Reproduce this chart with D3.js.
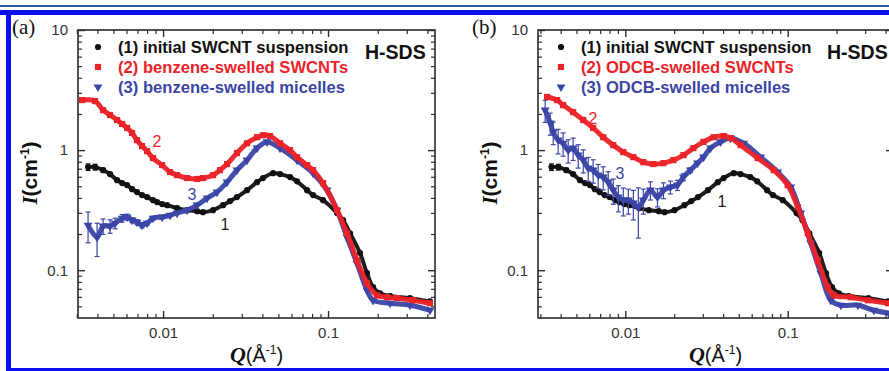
<!DOCTYPE html>
<html>
<head>
<meta charset="utf-8">
<script src="https://cdn.jsdelivr.net/npm/d3@7"></script>
<style>
  body { margin: 0; background: #fff; }
  svg { display: block; }
</style>
</head>
<body>
<div id="chart"></div>
<script>
// ---- data: Q (1/Å), I (1/cm) ----
// (1) initial SWCNT suspension, same sample in both panels
const qInitial = [0.00351, 0.00387, 0.00433, 0.00477, 0.00526, 0.00565, 0.00605, 0.00649, 0.00695, 0.00746,
  0.00800, 0.00869, 0.00920, 0.00986, 0.01057, 0.01216, 0.01396, 0.01607, 0.01746, 0.02009, 0.02310, 0.02547,
  0.02805, 0.03228, 0.03712, 0.04036, 0.04645, 0.05117, 0.05884, 0.06486, 0.07459, 0.08111, 0.09325, 0.1134,
  0.1233, 0.1359, 0.1563, 0.1722, 0.1875, 0.2066, 0.2377, 0.314, 0.415];
const iInitial = [0.722, 0.722, 0.681, 0.631, 0.562, 0.531, 0.511, 0.473, 0.447, 0.422,
  0.406, 0.383, 0.369, 0.355, 0.348, 0.329, 0.316, 0.310, 0.304, 0.316, 0.348, 0.376,
  0.406, 0.464, 0.541, 0.585, 0.643, 0.631, 0.596, 0.550, 0.464, 0.422, 0.383, 0.299,
  0.261, 0.203, 0.139, 0.0944, 0.0722, 0.0643, 0.061, 0.0585, 0.055];
const errInitial = [0.045, 0.04, 0.025, 0.015];

// (a) benzene
const qBenzeneTubes = [0.00323, 0.00387, 0.00433, 0.00477, 0.00526, 0.00565, 0.00605, 0.00649, 0.00695, 0.00746,
  0.00800, 0.00869, 0.00986, 0.01102, 0.01216, 0.01396, 0.01607, 0.01746, 0.02009, 0.02213, 0.02443, 0.02805,
  0.03228, 0.03712, 0.04036, 0.0445, 0.05117, 0.05884, 0.06486, 0.07459, 0.08111, 0.09325, 0.1134, 0.1303,
  0.1498, 0.1722, 0.1982, 0.2279, 0.2621, 0.3275, 0.415];
const iBenzeneTubes = [2.61, 2.56, 2.15, 1.96, 1.78, 1.65, 1.53, 1.39, 1.21, 1.08,
  0.981, 0.858, 0.75, 0.656, 0.619, 0.585, 0.575, 0.585, 0.619, 0.681, 0.765, 0.944,
  1.14, 1.28, 1.33, 1.31, 1.14, 1.0, 0.874, 0.75, 0.681, 0.531, 0.316, 0.203,
  0.121, 0.0779, 0.0619, 0.0596, 0.0585, 0.0562, 0.0531];
const qBenzeneMic = [0.00351, 0.00398, 0.00433, 0.00477, 0.00512, 0.00565, 0.00605, 0.00649, 0.00695, 0.00746,
  0.00800, 0.00869, 0.00986, 0.01102, 0.01216, 0.01396, 0.01607, 0.01849, 0.02124, 0.02443, 0.02805, 0.03228,
  0.03712, 0.04268, 0.05117, 0.06486, 0.08111, 0.09863, 0.1134, 0.1303, 0.1498, 0.1722, 0.1875, 0.2377,
  0.314, 0.415];
const iBenzeneMic = [0.237, 0.188, 0.233, 0.233, 0.246, 0.271, 0.277, 0.261, 0.251, 0.237,
  0.246, 0.271, 0.277, 0.287, 0.299, 0.316, 0.348, 0.398, 0.447, 0.541, 0.681, 0.825,
  1.04, 1.17, 1.04, 0.825, 0.643, 0.464, 0.316, 0.188, 0.114, 0.0681, 0.0562, 0.0531,
  0.0511, 0.0464];
const errBenzeneMic = [0.068, 0.058, 0.034, 0.03, 0.025, 0.02, 0.016, 0.012, 0.012, 0.012, 0.01, 0.01, 0.008];

// (b) ODCB
const qOdcbTubes = [0.0033, 0.0038, 0.00414, 0.00477, 0.00551, 0.00634, 0.00731, 0.00843, 0.00972, 0.01121,
  0.01291, 0.0149, 0.01718, 0.01977, 0.02281, 0.02628, 0.03031, 0.03494, 0.04027, 0.04448, 0.05128, 0.0653,
  0.082, 0.1, 0.1153, 0.1329, 0.1531, 0.1765, 0.1922, 0.2449, 0.3118, 0.4142];
const iOdcbTubes = [2.77, 2.61, 2.37, 2.07, 1.78, 1.53, 1.28, 1.10, 0.962, 0.874,
  0.794, 0.765, 0.779, 0.825, 0.908, 1.04, 1.17, 1.28, 1.31, 1.26, 1.10, 0.858,
  0.681, 0.511, 0.335, 0.203, 0.121, 0.0722, 0.0619, 0.0596, 0.0562, 0.0531];
const qOdcbMic = [0.00321, 0.00345, 0.0036, 0.00386, 0.00414, 0.00445, 0.00477, 0.00513, 0.00551, 0.00591,
  0.00634, 0.00681, 0.00731, 0.00785, 0.00843, 0.00906, 0.00972, 0.01044, 0.01121, 0.01203, 0.01291, 0.01427,
  0.01578, 0.01718, 0.01896, 0.02093, 0.02281, 0.02518, 0.02782, 0.03031, 0.03348, 0.03859, 0.04448, 0.05351,
  0.06814, 0.08677, 0.1044, 0.1203, 0.1386, 0.1598, 0.1842, 0.2124, 0.2705, 0.3394, 0.4202];
const iOdcbMic = [2.15, 1.68, 1.41, 1.21, 1.14, 1.0, 1.04, 0.908, 0.825, 0.708,
  0.681, 0.619, 0.596, 0.541, 0.464, 0.406, 0.383, 0.383, 0.362, 0.335, 0.383, 0.464,
  0.406, 0.464, 0.492, 0.511, 0.596, 0.681, 0.779, 0.874, 1.04, 1.17, 1.26, 1.14,
  0.874, 0.656, 0.492, 0.299, 0.168, 0.0944, 0.0562, 0.0511, 0.0511, 0.0464, 0.0438];
const errOdcbMic = [0.45, 0.35, 0.3, 0.28, 0.25, 0.22, 0.22, 0.2, 0.18, 0.16, 0.15, 0.14, 0.13, 0.12, 0.11,
  0.1, 0.1, 0.09, 0.1, 0.15, 0.09, 0.08, 0.07, 0.07, 0.06, 0.05, 0.04, 0.03, 0.02];

// ---- axes / labels ----
const xMajor = [0.01, 0.1];
const xMajorLabels = ['0.01', '0.1'];
const yMajor = [0.1, 1, 10];
const yMajorLabels = ['0.1', '1', '10'];
const legendA = ['(1) initial SWCNT suspension', '(2) benzene-swelled SWCNTs', '(3) benzene-swelled micelles'];
const legendB = ['(1) initial SWCNT suspension', '(2) ODCB-swelled SWCNTs', '(3) ODCB-swelled micelles'];

const COLORS = { initial: '#111111', tubes: '#ec2229', mic: '#3b45a6' };
const SANS = '"Liberation Sans", Arial, sans-serif';
const SERIF = '"Liberation Serif", "Times New Roman", serif';
const W = 889, H = 371;
const plotTop = 30, plotBottom = 318;
const iDomain = [0.04, 10];

// minor tick positions 2..9 per decade
const decadeMinors = (lo, hi) => {
  const out = [];
  for (let e = lo; e <= hi; e++) for (let m = 2; m <= 9; m++) out.push(m * Math.pow(10, e));
  return out;
};
const xMinor = decadeMinors(-3, -1).filter((v) => v > 0.0029 && v < 0.445);
const yMinor = decadeMinors(-2, 0).filter((v) => v > 0.04 && v < 10);

const svg = d3.select('#chart').append('svg').attr('width', W).attr('height', H);
svg.append('rect').attr('width', W).attr('height', H).attr('fill', '#fff');

// page frame
svg.append('rect').attr('x', 0).attr('y', 5).attr('width', W).attr('height', 2).attr('fill', '#2a58a6');
svg.append('rect').attr('x', 0).attr('y', 10).attr('width', W).attr('height', 5).attr('fill', '#0b10ef');
svg.append('rect').attr('x', 6).attr('y', 10).attr('width', 5).attr('height', H - 10).attr('fill', '#0b10ef');
svg.append('rect').attr('x', 6).attr('y', 368).attr('width', W - 6).attr('height', 3).attr('fill', '#0b10ef');

const panels = [
  {
    id: 'a', tag: '(a)', tagX: 12, left: 78, right: 435, qDomain: [0.00305, 0.445],
    legend: legendA, legendX: 98, hsdsX: 365,
    tubes: { q: qBenzeneTubes, i: iBenzeneTubes, err: [] },
    mic: { q: qBenzeneMic, i: iBenzeneMic, err: errBenzeneMic },
    labels: [[157, 141], [192, 194], [225, 224]],
  },
  {
    id: 'b', tag: '(b)', tagX: 472, left: 538, right: 893, qDomain: [0.0029, 0.445],
    legend: legendB, legendX: 561, hsdsX: 827,
    tubes: { q: qOdcbTubes, i: iOdcbTubes, err: [] },
    mic: { q: qOdcbMic, i: iOdcbMic, err: errOdcbMic },
    labels: [[593, 118], [620, 173], [722, 201]],
  },
];

const markers = {
  initial: d3.symbol().type(d3.symbolCircle).size(30),
  tubes: d3.symbol().type(d3.symbolSquare).size(38),
  mic: d3.symbol().type(d3.symbolTriangle).size(34),
};
const markerRot = { initial: 0, tubes: 0, mic: 180 };

panels.forEach((p) => {
  const g = svg.append('g').attr('class', 'panel-' + p.id);
  const x = d3.scaleLog().domain(p.qDomain).range([p.left, p.right]);
  const y = d3.scaleLog().domain(iDomain).range([plotBottom, plotTop]);

  const series = [
    { key: 'initial', q: qInitial, i: iInitial, err: errInitial },
    { key: 'mic', ...p.mic },
    { key: 'tubes', ...p.tubes },
  ];

  const line = d3.line().x((d) => x(d.q)).y((d) => y(d.i)).curve(d3.curveCatmullRom);

  series.forEach((s) => {
    const pts = s.q.map((q, k) => ({ q, i: s.i[k], e: s.err[k] || 0 }));
    const col = COLORS[s.key];
    const sg = g.append('g');

    // error bars
    pts.filter((d) => d.e > 0).forEach((d) => {
      const cx = x(d.q), y1 = y(d.i + d.e), y2 = y(Math.max(d.i - d.e, 0.041));
      sg.append('line').attr('x1', cx).attr('x2', cx).attr('y1', y1).attr('y2', y2)
        .attr('stroke', col).attr('stroke-width', 1.2);
      [y1, y2].forEach((yy) => sg.append('line')
        .attr('x1', cx - 2.5).attr('x2', cx + 2.5).attr('y1', yy).attr('y2', yy)
        .attr('stroke', col).attr('stroke-width', 1.2));
    });

    // dense band of points drawn as a thick trace plus markers
    sg.append('path').datum(pts).attr('d', line)
      .attr('fill', 'none').attr('stroke', col).attr('stroke-width', s.key === 'initial' ? 4 : 5)
      .attr('stroke-linejoin', 'round').attr('opacity', 0.95);

    sg.selectAll('path.mk').data(pts).enter().append('path').attr('class', 'mk')
      .attr('d', markers[s.key])
      .attr('transform', (d) => `translate(${x(d.q)},${y(d.i)}) rotate(${markerRot[s.key]})`)
      .attr('fill', col);
  });

  // frame
  g.append('rect').attr('x', p.left).attr('y', plotTop)
    .attr('width', p.right - p.left).attr('height', plotBottom - plotTop)
    .attr('fill', 'none').attr('stroke', '#2b2b2b').attr('stroke-width', 1.6);

  // ticks on all four sides, pointing inward
  const sides = [
    [d3.axisBottom, x, `translate(0,${plotBottom})`, true, xMajor, xMinor, xMajorLabels],
    [d3.axisTop, x, `translate(0,${plotTop})`, false, xMajor, xMinor, xMajorLabels],
    [d3.axisLeft, y, `translate(${p.left},0)`, true, yMajor, yMinor, yMajorLabels],
    [d3.axisRight, y, `translate(${p.right},0)`, false, yMajor, yMinor, yMajorLabels],
  ];
  sides.forEach(([axisFn, sc, tr, withLabels, major, minor, labels]) => {
    g.append('g').attr('transform', tr)
      .call(axisFn(sc).tickValues(minor).tickSizeInner(-4).tickSizeOuter(0).tickFormat(''))
      .call((a) => a.select('.domain').remove())
      .call((a) => a.selectAll('line').attr('stroke', '#2b2b2b').attr('stroke-width', 1.2));
    const ag = g.append('g').attr('transform', tr)
      .call(axisFn(sc).tickValues(major).tickSizeInner(-7).tickSizeOuter(0)
        .tickPadding(axisFn === d3.axisBottom ? 9 : 10)
        .tickFormat((d, k) => (withLabels ? labels[k] : '')))
      .call((a) => a.select('.domain').remove())
      .call((a) => a.selectAll('line').attr('stroke', '#2b2b2b').attr('stroke-width', 1.4));
    ag.selectAll('text').attr('font-family', SANS).attr('font-size', 15).attr('fill', '#333');
  });

  // legend
  const lkeys = ['initial', 'tubes', 'mic'];
  p.legend.forEach((txt, k) => {
    const ly = 47 + k * 20;
    g.append('path').attr('d', markers[lkeys[k]])
      .attr('transform', `translate(${p.legendX},${ly}) rotate(${markerRot[lkeys[k]]})`)
      .attr('fill', COLORS[lkeys[k]]);
    g.append('text').attr('x', p.legendX + 20).attr('y', ly + 6)
      .attr('font-family', SANS).attr('font-size', 16.6).attr('font-weight', 'bold')
      .attr('fill', COLORS[lkeys[k]]).text(txt);
  });
  g.append('text').attr('x', p.hsdsX).attr('y', 59)
    .attr('font-family', SANS).attr('font-size', 19.5).attr('font-weight', 'bold')
    .attr('fill', '#111').text('H-SDS');

  // curve numbers
  ['2', '3', '1'].forEach((n, k) => {
    const key = ['tubes', 'mic', 'initial'][k];
    g.append('text').attr('x', p.labels[k][0]).attr('y', p.labels[k][1]).attr('dy', '0.36em')
      .attr('text-anchor', 'middle').attr('font-family', SANS).attr('font-size', 16)
      .attr('fill', key === 'initial' ? '#222' : COLORS[key]).text(n);
  });

  // panel tag
  g.append('text').attr('x', p.tagX).attr('y', 34)
    .attr('font-family', SERIF).attr('font-size', 21).attr('fill', '#111').text(p.tag);

  // y title
  const yt = g.append('text')
    .attr('transform', `translate(${p.left - 41},173) rotate(-90)`)
    .attr('text-anchor', 'middle').attr('font-family', SANS).attr('font-size', 21)
    .attr('font-weight', 'bold').attr('fill', '#111');
  yt.append('tspan').attr('font-family', SERIF).attr('font-style', 'italic').text('I');
  yt.append('tspan').text('(cm');
  yt.append('tspan').attr('font-size', 12).attr('dy', -8).text('-1');
  yt.append('tspan').attr('dy', 8).text(')');

  // x title
  const xt = g.append('text')
    .attr('x', (p.left + p.right) / 2).attr('y', 362)
    .attr('text-anchor', 'middle').attr('font-family', SANS).attr('font-size', 20).attr('fill', '#111');
  xt.append('tspan').attr('font-family', SERIF).attr('font-style', 'italic').attr('font-weight', 'bold')
    .attr('font-size', 22).text('Q');
  xt.append('tspan').text('(Å');
  xt.append('tspan').attr('font-size', 12).attr('dy', -8).text('-1');
  xt.append('tspan').attr('dy', 8).text(')');
});
</script>
</body>
</html>
